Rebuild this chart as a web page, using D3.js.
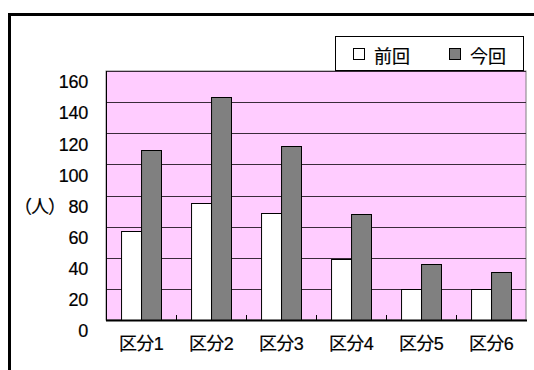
<!DOCTYPE html>
<html>
<head>
<meta charset="utf-8">
<script src="https://cdn.jsdelivr.net/npm/d3@7"></script>
<style>
  html, body { margin: 0; padding: 0; background: #fff; }
  svg { display: block; }
  text { fill: #000; stroke: #000; stroke-width: 0.2px; }
</style>
</head>
<body>
<svg id="chart" width="534" height="370"></svg>
<script>
// Category labels, series and axis ticks
const categories = ["区分1", "区分2", "区分3", "区分4", "区分5", "区分6"];
const seriesNames = ["前回", "今回"];
const previous = [57, 75, 69, 39, 20, 20];
const current = [109, 143, 112, 68, 36, 31];
const yTicks = [0, 20, 40, 60, 80, 100, 120, 140, 160];
const yUnit = "（人）";

const colors = { "前回": "#ffffff", "今回": "#808080" };
const numFont = "'Liberation Sans', Arial, sans-serif";
const mixFont = "'Liberation Sans', 'Noto Sans CJK JP', sans-serif";
const cjkFont = "'Noto Sans CJK JP', sans-serif";

const svg = d3.select("#chart");
const plot = { left: 106, right: 526, top: 71, bottom: 320 };

// Outer chart frame (extends past the right and bottom edges)
svg.append("rect")
  .attr("x", 9.5).attr("y", 14.5)
  .attr("width", 560).attr("height", 400)
  .attr("fill", "#fff").attr("stroke", "#000").attr("stroke-width", 3);

const x = d3.scaleBand()
  .domain(categories)
  .range([plot.left, plot.right])
  .paddingInner(0.43)
  .paddingOuter(0.215);

const xSeries = d3.scaleBand()
  .domain(seriesNames)
  .range([0, x.bandwidth()]);

const y = d3.scaleLinear()
  .domain([0, 160])
  .range([plot.bottom, plot.top]);

// Plot background
svg.append("rect")
  .attr("x", plot.left).attr("y", plot.top)
  .attr("width", plot.right - plot.left).attr("height", plot.bottom - plot.top)
  .attr("fill", "#ffccff").attr("stroke", "#808080").attr("stroke-width", 1);

// Horizontal gridlines
svg.append("g")
  .selectAll("line")
  .data(yTicks.filter(d => d > 0))
  .join("line")
  .attr("x1", plot.left).attr("x2", plot.right)
  .attr("y1", d => Math.round(y(d)) + 0.5).attr("y2", d => Math.round(y(d)) + 0.5)
  .attr("stroke", "#3a2a3a").attr("stroke-width", 1);

// Bars
const rows = categories.map((c, i) => ({ category: c, values: [
  { name: seriesNames[0], value: previous[i] },
  { name: seriesNames[1], value: current[i] }
]}));

const groups = svg.append("g")
  .selectAll("g")
  .data(rows)
  .join("g")
  .attr("transform", d => `translate(${x(d.category)},0)`);

groups.selectAll("rect")
  .data(d => d.values)
  .join("rect")
  .attr("x", d => Math.round(xSeries(d.name)) + 0.5)
  .attr("y", d => Math.round(y(d.value)) + 0.5)
  .attr("width", xSeries.bandwidth())
  .attr("height", d => plot.bottom - Math.round(y(d.value)))
  .attr("fill", d => colors[d.name])
  .attr("stroke", "#000")
  .attr("stroke-width", 1);

// Category boundary ticks on the x axis
const boundaries = d3.range(1, categories.length).map(i => plot.left + i * x.step());
svg.append("g")
  .selectAll("line")
  .data(boundaries)
  .join("line")
  .attr("x1", d => Math.round(d) + 0.5).attr("x2", d => Math.round(d) + 0.5)
  .attr("y1", plot.bottom).attr("y2", plot.bottom - 5)
  .attr("stroke", "#000");

// Axis lines
svg.append("line")
  .attr("x1", plot.left).attr("x2", plot.right + 1)
  .attr("y1", plot.bottom + 0.5).attr("y2", plot.bottom + 0.5)
  .attr("stroke", "#000").attr("stroke-width", 2);
svg.append("line")
  .attr("x1", plot.left + 0.5).attr("x2", plot.left + 0.5)
  .attr("y1", plot.top).attr("y2", plot.bottom)
  .attr("stroke", "#000");

// Y tick labels
svg.append("g")
  .selectAll("text")
  .data(yTicks)
  .join("text")
  .attr("x", 88)
  .attr("y", d => y(d) + 11)
  .attr("dy", "0.35em")
  .attr("text-anchor", "end")
  .attr("font-family", numFont)
  .attr("font-size", 18)
  .attr("letter-spacing", -0.3)
  .text(d => d);

// Unit label
svg.append("text")
  .attr("x", 65).attr("y", y(80) + 11)
  .attr("dy", "0.35em")
  .attr("text-anchor", "end")
  .attr("font-family", cjkFont)
  .attr("font-size", 18)
  .attr("letter-spacing", -1)
  .text(yUnit);

// X category labels
svg.append("g")
  .selectAll("text")
  .data(categories)
  .join("text")
  .attr("x", d => x(d) + x.bandwidth() / 2)
  .attr("y", 344)
  .attr("dy", "0.35em")
  .attr("text-anchor", "middle")
  .attr("font-family", mixFont)
  .attr("font-size", 18)
  .attr("letter-spacing", -0.6)
  .text(d => d);

// Legend
const legend = svg.append("g");
legend.append("rect")
  .attr("x", 335.5).attr("y", 36.5)
  .attr("width", 188).attr("height", 34)
  .attr("fill", "#fff").attr("stroke", "#000");

const legendX = [353, 449];
seriesNames.forEach((name, i) => {
  legend.append("rect")
    .attr("x", legendX[i] + 0.5).attr("y", 48.5)
    .attr("width", 11).attr("height", 11)
    .attr("fill", colors[name]).attr("stroke", "#000");
  legend.append("text")
    .attr("x", legendX[i] + 21).attr("y", 57)
    .attr("dy", "0.35em")
    .attr("font-family", cjkFont)
    .attr("font-size", 18)
    .text(name);
});
</script>
</body>
</html>
